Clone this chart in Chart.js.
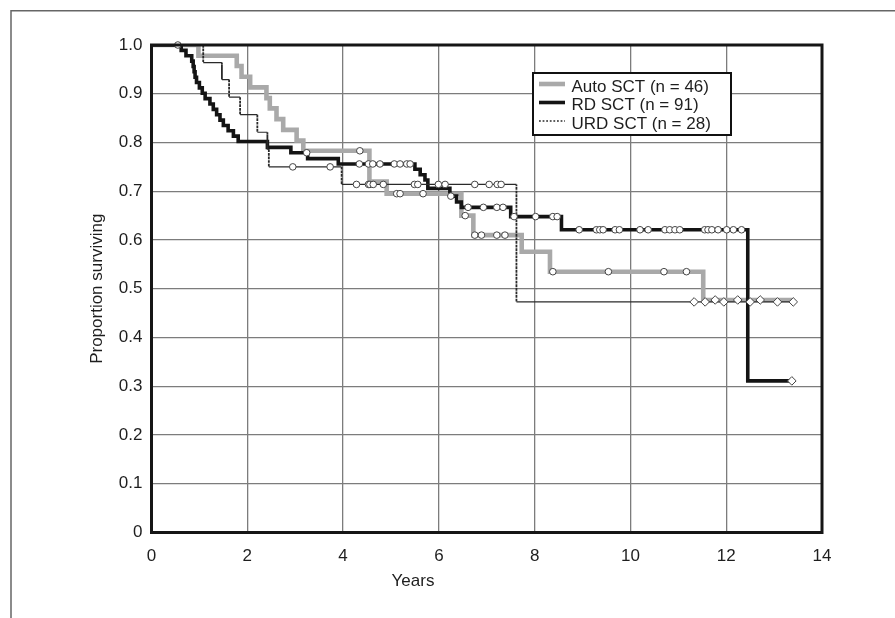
<!DOCTYPE html>
<html>
<head>
<meta charset="utf-8">
<script src="https://cdn.jsdelivr.net/npm/chart.js@4.4.1/dist/chart.umd.min.js"></script>
<style>
  html, body { margin: 0; padding: 0; background: #fff; }
  #wrap { width: 895px; height: 618px; position: relative; }
</style>
</head>
<body>
<div id="wrap"><canvas id="km"></canvas></div>
<script>
// Kaplan-Meier steps: event time (years) -> survival after it
const autoTimes = [0.98, 1.78, 1.88, 2.06, 2.40, 2.47, 2.61, 2.75, 3.03, 3.17, 4.55, 4.91, 6.47, 6.72, 7.73, 8.32, 11.52];
const autoSurv = [0.978, 0.957, 0.935, 0.913, 0.891, 0.870, 0.848, 0.826, 0.804, 0.783, 0.720, 0.695, 0.650, 0.610, 0.576, 0.535, 0.477];
const autoEnd = 13.40;
const autoCensor = [0.55, 4.35, 5.12, 5.19, 5.67, 6.55, 6.75, 6.89, 7.21, 7.38, 8.38, 9.54, 10.70, 11.17, 11.77, 12.24, 12.71];

const rdTimes = [0.62, 0.72, 0.84, 0.87, 0.89, 0.91, 0.94, 1.00, 1.06, 1.12, 1.22, 1.29, 1.36, 1.43, 1.50, 1.60, 1.71, 1.81,
  2.42, 2.91, 3.26, 3.90, 5.50, 5.61, 5.71, 5.77, 6.23, 6.37, 6.47, 7.50, 8.56, 12.45];
const rdSurv = [0.989, 0.978, 0.967, 0.956, 0.945, 0.934, 0.923, 0.912, 0.901, 0.890, 0.879, 0.868, 0.857, 0.846, 0.835, 0.824, 0.813, 0.802,
  0.790, 0.779, 0.767, 0.756, 0.745, 0.734, 0.723, 0.706, 0.690, 0.678, 0.667, 0.648, 0.621, 0.311];
const rdEnd = 13.37;
const rdCensor = [3.24, 4.34, 4.53, 4.62, 4.77, 5.07, 5.19, 5.33, 5.40, 6.25, 6.61, 6.93, 7.21, 7.34, 7.57, 8.02, 8.38, 8.47,
  8.93, 9.29, 9.36, 9.43, 9.68, 9.77, 10.20, 10.37, 10.72, 10.82, 10.93, 11.03, 11.55, 11.62, 11.70, 11.83, 12.01, 12.15, 12.32, 13.37];

const urdTimes = [1.08, 1.47, 1.62, 1.85, 2.21, 2.42, 2.45, 3.97, 7.62];
const urdSurv = [0.964, 0.929, 0.893, 0.857, 0.821, 0.786, 0.750, 0.714, 0.473];
const urdEnd = 13.40;
const urdCensor = [2.95, 3.73, 4.28, 4.53, 4.56, 4.63, 4.84, 5.49, 5.56, 5.99, 6.13, 6.75, 7.05, 7.22, 7.30,
  11.33, 11.56, 11.95, 12.50, 13.07, 13.40];

const seriesNames = ["Auto SCT (n = 46)", "RD SCT (n = 91)", "URD SCT (n = 28)"];
const xTickLabels = ["0", "2", "4", "6", "8", "10", "12", "14"];
const yTickLabels = ["0", "0.1", "0.2", "0.3", "0.4", "0.5", "0.6", "0.7", "0.8", "0.9", "1.0"];

const FONT = "'Liberation Sans', Arial, Helvetica, sans-serif";
const INK = "#1e1e1e";
const GRID = "#7c7c7c";
const AUTO_COLOR = "#a9a9a9";
const RD_COLOR = "#141414";
const URD_COLOR = "#2a2a2a";

// turn the step table into corner points (the line itself is drawn by the scales)
function stepPoints(times, surv, end) {
  const pts = [{ x: 0, y: 1 }];
  let prev = 1;
  times.forEach((t, i) => {
    pts.push({ x: t, y: prev });
    pts.push({ x: t, y: surv[i] });
    prev = surv[i];
  });
  pts.push({ x: end, y: prev });
  return pts;
}

function survAt(times, surv, t) {
  let s = 1;
  times.forEach((ti, i) => { if (ti <= t) s = surv[i]; });
  return s;
}

function censorPoints(times, surv, cens) {
  return cens.map((t) => ({ x: t, y: survAt(times, surv, t) }));
}

const isVertical = (ctx) => ctx.p0.parsed.x === ctx.p1.parsed.x;

const markerStyle = {
  showLine: false,
  pointStyle: (ctx) => (ctx.raw && ctx.raw.y < 0.5 ? "rectRot" : "circle"),
  pointRadius: (ctx) => (ctx.raw && ctx.raw.y < 0.5 ? 4.3 : 3.3),
  pointBackgroundColor: "#fff",
  pointBorderColor: "#444",
  pointBorderWidth: 1,
  clip: false,
  order: 0,
};

const datasets = [
  Object.assign({ label: "autoCens", data: censorPoints(autoTimes, autoSurv, autoCensor) }, markerStyle),
  Object.assign({ label: "rdCens", data: censorPoints(rdTimes, rdSurv, rdCensor) }, markerStyle),
  Object.assign({ label: "urdCens", data: censorPoints(urdTimes, urdSurv, urdCensor) }, markerStyle),
  {
    label: seriesNames[2],
    data: stepPoints(urdTimes, urdSurv, urdEnd),
    showLine: true,
    borderColor: URD_COLOR,
    borderWidth: 1.2,
    pointRadius: 0,
    segment: {
      // vertical drops are dotted, flat parts thin solid
      borderDash: (ctx) => (isVertical(ctx) ? [1.8, 1.8] : undefined),
      borderWidth: (ctx) => (isVertical(ctx) ? 1.8 : undefined),
    },
    order: 1,
  },
  {
    label: seriesNames[1],
    data: stepPoints(rdTimes, rdSurv, rdEnd),
    showLine: true,
    borderColor: RD_COLOR,
    borderWidth: 3.6,
    pointRadius: 0,
    order: 2,
  },
  {
    label: seriesNames[0],
    data: stepPoints(autoTimes, autoSurv, autoEnd),
    showLine: true,
    borderColor: AUTO_COLOR,
    borderWidth: 4.6,
    pointRadius: 0,
    order: 3,
  },
];

const framePlugin = {
  id: "frame",
  beforeDraw(chart) {
    const { ctx } = chart;
    ctx.save();
    ctx.strokeStyle = "#666";
    ctx.lineWidth = 1.5;
    ctx.beginPath();
    ctx.moveTo(11, 618);
    ctx.lineTo(11, 10.7);
    ctx.lineTo(895, 10.7);
    ctx.stroke();
    ctx.restore();
  },
  afterDraw(chart) {
    const { ctx, chartArea: a } = chart;
    ctx.save();
    ctx.strokeStyle = "#161616";
    ctx.lineWidth = 3;
    ctx.strokeRect(a.left, a.top, a.right - a.left, a.bottom - a.top);

    // legend box
    const bx = 533, by = 73, bw = 198, bh = 62;
    ctx.fillStyle = "#fff";
    ctx.fillRect(bx, by, bw, bh);
    ctx.lineWidth = 2;
    ctx.strokeStyle = "#111";
    ctx.strokeRect(bx, by, bw, bh);

    const rows = [
      { y: 87.5, line: 84, color: AUTO_COLOR, width: 4.6, dash: [] },
      { y: 105.5, line: 102.5, color: RD_COLOR, width: 3.6, dash: [] },
      { y: 124, line: 121, color: URD_COLOR, width: 1.4, dash: [1.8, 1.8] },
    ];
    rows.forEach((r, i) => {
      ctx.beginPath();
      ctx.setLineDash(r.dash);
      ctx.strokeStyle = r.color;
      ctx.lineWidth = r.width;
      ctx.moveTo(539, r.line);
      ctx.lineTo(565, r.line);
      ctx.stroke();
      ctx.setLineDash([]);
      ctx.fillStyle = INK;
      ctx.font = "17px " + FONT;
      ctx.textAlign = "left";
      ctx.textBaseline = "middle";
      ctx.fillText(seriesNames[i], 571.5, r.y);
    });

    // x axis title sits left of the plot centre in the original
    ctx.fillStyle = INK;
    ctx.font = "17px " + FONT;
    ctx.textAlign = "center";
    ctx.textBaseline = "middle";
    ctx.fillText("Years", 413, 581);
    ctx.restore();
  },
};

new Chart(document.getElementById("km"), {
  type: "scatter",
  data: { datasets },
  plugins: [framePlugin],
  options: {
    responsive: true,
    maintainAspectRatio: false,
    animation: false,
    layout: { padding: { left: 0, top: 45, right: 73, bottom: 0 } },
    plugins: {
      legend: { display: false },
      tooltip: { enabled: false },
    },
    scales: {
      x: {
        type: "linear",
        min: 0,
        max: 14,
        ticks: {
          stepSize: 2,
          padding: 14,
          color: INK,
          font: { family: FONT, size: 17 },
          callback: (v, i) => xTickLabels[i],
        },
        grid: { color: GRID, lineWidth: 1.3, drawTicks: false },
        border: { display: false },
        afterFit: (scale) => { scale.height = 85.5; },
      },
      y: {
        type: "linear",
        min: 0,
        max: 1,
        ticks: {
          stepSize: 0.1,
          padding: 9,
          color: INK,
          font: { family: FONT, size: 17 },
          callback: (v, i) => yTickLabels[i],
        },
        grid: { color: GRID, lineWidth: 1.3, drawTicks: false },
        border: { display: false },
        title: {
          display: true,
          text: "Proportion surviving",
          color: INK,
          font: { family: FONT, size: 17 },
          padding: { top: 86.8, bottom: 0 },
        },
        afterFit: (scale) => { scale.width = 151.5; },
      },
    },
  },
});
</script>
</body>
</html>
